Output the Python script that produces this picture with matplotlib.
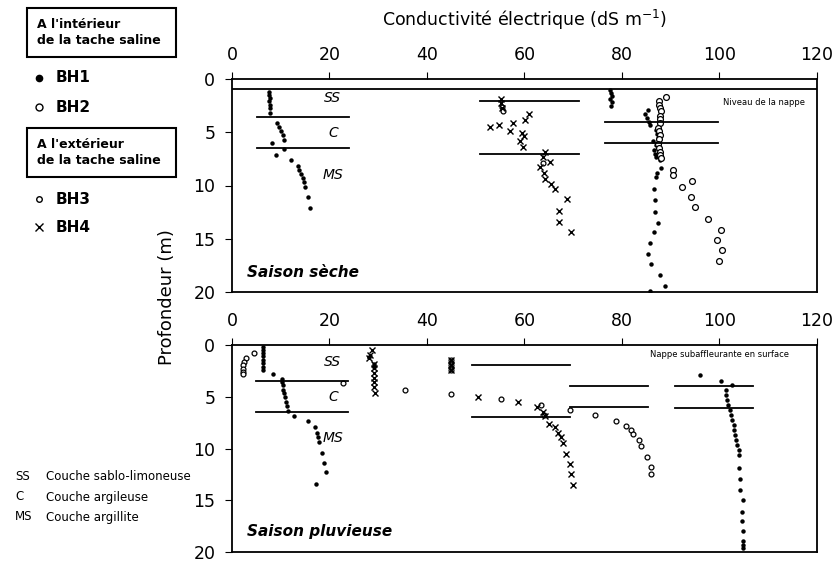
import matplotlib
matplotlib.use("Agg")
import matplotlib.pyplot as plt
from matplotlib.patches import Rectangle

# ---------------- DATA ----------------
xticks = [0, 20, 40, 60, 80, 100, 120]
yticks = [0, 5, 10, 15, 20]

# Dry season (Saison sèche): (conductivity, depth)
dry_bh1_x = [7.5, 7.6, 7.8, 7.6, 7.7, 7.8, 7.7, 9.2, 9.7, 10.1, 10.4, 10.7, 8.3, 10.7, 9.0,
             12.1, 13.5, 13.8, 14.2, 14.5, 14.8, 15.0, 15.5, 16.0,
             77.5, 77.8, 78.0, 77.6, 78.0, 77.8,
             85.4, 84.7, 85.1, 85.5, 85.7, 87.0, 87.1, 87.3, 86.3, 87.0, 86.6, 86.8, 87.0, 87.8,
             88.1, 87.1, 87.0, 86.6, 86.8, 86.8, 87.3, 86.5, 85.7, 85.3, 86.0, 87.8, 88.8, 85.8]
dry_bh1_y = [1.2, 1.5, 1.8, 2.1, 2.4, 2.7, 3.2, 4.1, 4.5, 4.85, 5.25, 5.7, 6.0, 6.6, 7.1,
             7.6, 8.2, 8.5, 8.95, 9.3, 9.7, 10.1, 11.05, 12.1,
             1.0, 1.3, 1.6, 1.9, 2.2, 2.5,
             2.9, 3.3, 3.7, 4.0, 4.3, 4.8, 5.2, 5.5, 5.8, 6.2, 6.7, 7.0, 7.35, 7.6,
             8.4, 8.85, 9.2, 10.35, 11.4, 12.5, 13.5, 14.4, 15.4, 16.4, 17.4, 18.4, 19.4, 19.9]
dry_bh2_x = [89.0, 87.5, 87.5, 87.7, 88.0, 87.8, 87.7, 87.7, 87.4, 87.5, 87.8, 87.5, 87.4, 87.5,
             87.7, 87.8, 88.0, 90.5, 90.5, 94.4, 92.4, 94.1, 95.0, 97.6, 100.3, 99.4, 100.5, 99.9]
dry_bh2_y = [1.65, 2.1, 2.45, 2.75, 3.05, 3.45, 3.8, 4.1, 4.6, 4.9, 5.3, 5.6, 6.1, 6.5,
             6.9, 7.1, 7.4, 8.55, 9.0, 9.6, 10.1, 11.05, 12.05, 13.1, 14.2, 15.1, 16.1, 17.1]
dry_bh3_x = [55.3, 55.5, 63.8]
dry_bh3_y = [2.6, 3.0, 7.9]
dry_bh4_x = [55.2, 55.2, 55.3, 60.9, 60.2, 57.6, 52.9, 54.8, 57.1, 59.5, 59.8, 59.1, 59.6,
             64.2, 63.8, 65.2, 63.2, 63.9, 64.2, 65.5, 66.2, 68.8, 67.0, 67.0, 69.5]
dry_bh4_y = [1.9, 2.3, 2.75, 3.3, 3.85, 4.1, 4.55, 4.3, 4.85, 5.1, 5.35, 5.85, 6.4,
             6.9, 7.3, 7.8, 8.3, 8.85, 9.4, 9.85, 10.35, 11.3, 12.35, 13.4, 14.4]

# Rainy season (Saison pluvieuse)
wet_bh1_x = [6.3, 6.3, 6.3, 6.3, 6.3, 6.3, 6.3, 6.3, 8.5, 10.2, 10.3, 10.4, 10.5, 10.7, 10.9,
             11.0, 11.2, 11.55, 12.8, 15.65, 17.0, 17.5, 17.7, 17.8, 18.5, 18.9, 19.2, 17.2,
             28.2, 29.1, 29.1,
             95.9, 100.4, 102.6, 101.3, 101.4, 101.6, 101.8, 102.2, 102.4, 102.5, 103.0, 103.0,
             103.2, 103.4, 103.6, 103.9, 104.1, 104.1, 104.3, 104.3, 104.9, 104.6, 104.6, 104.9,
             104.8, 104.8, 104.8]
wet_bh1_y = [0.16, 0.48, 0.8, 1.1, 1.45, 1.77, 2.1, 2.4, 2.8, 3.3, 3.55, 3.85, 4.35, 4.65, 5.05,
             5.5, 5.9, 6.35, 6.85, 7.3, 7.9, 8.5, 8.85, 9.35, 10.4, 11.4, 12.3, 13.4,
             1.2, 1.8, 2.1,
             2.9, 3.45, 3.85, 4.35, 4.8, 5.3, 5.8, 6.3, 6.75, 7.25, 7.75, 8.2,
             8.7, 9.2, 9.7, 10.1, 10.6, 11.9, 12.9, 14.0, 15.0, 16.1, 17.0, 18.0,
             18.9, 19.3, 19.6]
wet_bh3_x = [4.5, 2.8, 2.5, 2.3, 2.3, 2.3, 2.3, 22.8, 35.5, 44.9, 44.9, 44.9, 44.9, 55.2,
             63.4, 64.0, 69.3, 74.5, 78.7, 80.8, 81.8, 82.3, 83.4, 84.0, 85.1, 85.9, 85.9]
wet_bh3_y = [0.8, 1.3, 1.6, 1.9, 2.3, 2.6, 2.8, 3.7, 4.35, 1.45, 1.9, 2.4, 4.7, 5.25,
             5.8, 6.75, 6.3, 6.8, 7.3, 7.8, 8.2, 8.6, 9.2, 9.75, 10.8, 11.75, 12.45]
wet_bh4_x = [28.65, 28.3, 28.2, 29.1, 29.2, 29.2, 29.2, 29.2, 29.2, 29.3,
             44.9, 44.9, 44.9, 50.5, 58.7, 62.6, 63.7, 64.2, 65.1, 66.3, 66.9, 67.4, 67.8,
             68.6, 69.3, 69.6, 70.0]
wet_bh4_y = [0.5, 0.95, 1.3, 1.8, 2.2, 2.7, 3.2, 3.6, 4.1, 4.65,
             1.45, 1.9, 2.4, 5.05, 5.5, 6.0, 6.45, 6.9, 7.6, 7.95, 8.5, 8.9, 9.45,
             10.5, 11.5, 12.5, 13.5]

# Layer boundary segments: (depth, x_start, x_end)
dry_layers = [(3.6, 5.1, 23.9), (6.5, 5.1, 23.9), (2.1, 50.9, 71.2), (7.0, 50.9, 71.2),
              (4.05, 76.5, 99.7), (6.05, 76.5, 99.7)]
wet_layers = [(3.5, 4.9, 23.7), (6.5, 4.9, 23.7), (1.95, 49.2, 69.3), (7.0, 49.2, 69.3),
              (4.0, 69.3, 85.4), (6.0, 69.3, 85.4), (4.0, 90.9, 106.9), (6.1, 90.9, 106.9)]
dry_water_level = 0.95

layer_names = ["SS", "C", "MS"]
dry_layer_label_y = [1.8, 5.1, 9.0]
wet_layer_label_y = [1.6, 5.0, 9.0]

# ---------------- FIGURE ----------------
W, H = 837, 562
fig = plt.figure(figsize=(W / 100, H / 100), dpi=100)
plt.rcParams['font.family'] = ['DejaVu Sans']

def px_axes(left, top, right, bottom):
    return fig.add_axes([left / W, 1 - bottom / H, (right - left) / W, (bottom - top) / H])

ax1 = px_axes(232, 79, 817, 292)
ax2 = px_axes(232, 345, 817, 552)

ms_dot = 3.2
for ax in (ax1, ax2):
    ax.set_xlim(0, 120)
    ax.set_ylim(20, 0)
    ax.xaxis.tick_top()
    ax.set_xticks(xticks)
    ax.set_yticks(yticks)
    ax.tick_params(direction='out', length=5, width=0.8, labelsize=12.5)
    ax.tick_params(axis='x', pad=6)
    ax.tick_params(axis='y', pad=7)
    for s in ax.spines.values():
        s.set_linewidth(1.3)

# Dry season
ax1.plot(dry_bh1_x, dry_bh1_y, 'o', color='black', ms=ms_dot, mew=0, linestyle='none')
ax1.plot(dry_bh2_x, dry_bh2_y, 'o', mfc='white', mec='black', ms=4.2, mew=0.9, linestyle='none')
ax1.plot(dry_bh3_x, dry_bh3_y, 'o', mfc='white', mec='black', ms=3.5, mew=0.9, linestyle='none')
ax1.plot(dry_bh4_x, dry_bh4_y, 'x', color='black', ms=4.5, mew=1.0, linestyle='none')
for d, x0, x1 in dry_layers:
    ax1.plot([x0, x1], [d, d], color='black', lw=1.3)
ax1.axhline(dry_water_level, color='black', lw=1.3)
for name, yy in zip(layer_names, dry_layer_label_y):
    ax1.text(20.7, yy, name, fontsize=10, ha='center', va='center', style='italic')
ax1.text(3.0, 18.2, "Saison sèche", fontsize=11, style='italic', fontweight='bold',
         ha='left', va='center')
ax1.text(100.7, 2.2, "Niveau de la nappe", fontsize=6, ha='left', va='center')

# Rainy season
ax2.plot(wet_bh1_x, wet_bh1_y, 'o', color='black', ms=ms_dot, mew=0, linestyle='none')
ax2.plot(wet_bh3_x, wet_bh3_y, 'o', mfc='white', mec='black', ms=3.5, mew=0.9, linestyle='none')
ax2.plot(wet_bh4_x, wet_bh4_y, 'x', color='black', ms=4.5, mew=1.0, linestyle='none')
for d, x0, x1 in wet_layers:
    ax2.plot([x0, x1], [d, d], color='black', lw=1.3)
for name, yy in zip(layer_names, wet_layer_label_y):
    ax2.text(20.7, yy, name, fontsize=10, ha='center', va='center', style='italic')
ax2.text(3.0, 18.0, "Saison pluvieuse", fontsize=11, style='italic', fontweight='bold',
         ha='left', va='center')
ax2.text(85.7, 0.9, "Nappe subaffleurante en surface", fontsize=6, ha='left', va='center')

# Axis titles
fig.text(525 / W, 1 - 20 / H, "Conductivité électrique (dS m$^{-1}$)", fontsize=12.5,
         ha='center', va='center')
fig.text(167 / W, 1 - 297 / H, "Profondeur (m)", fontsize=13, rotation=90,
         ha='center', va='center')

# Legend on the left
def fx(x):
    return x / W

def fy(y):
    return 1 - y / H

for (top, bot, txt) in [(8, 57, "A l'intérieur\nde la tache saline"),
                        (128, 177, "A l'extérieur\nde la tache saline")]:
    fig.patches.append(Rectangle((fx(27), fy(bot)), (176 - 27) / W, (bot - top) / H,
                                 transform=fig.transFigure, fill=False, ec='black', lw=1.5))
    fig.text(fx(37), fy((top + bot) / 2), txt, fontsize=9, fontweight='bold',
             ha='left', va='center', linespacing=1.3)

leg_items = [(78, 'o', 'black', 'black', 4.5, "BH1"),
             (107, 'o', 'white', 'black', 5, "BH2"),
             (199, 'o', 'white', 'black', 4, "BH3"),
             (227, 'x', 'black', 'black', 6, "BH4")]
for yy, mk, mfc, mec, ms, lab in leg_items:
    fig.lines.append(plt.Line2D([fx(39)], [fy(yy)], marker=mk, mfc=mfc, mec=mec, ms=ms,
                                mew=1.0, linestyle='none', transform=fig.transFigure))
    fig.text(fx(56), fy(yy), lab, fontsize=11, fontweight='bold', ha='left', va='center')

for yy, a, b in [(477, "SS", "Couche sablo-limoneuse"),
                 (497, "C", "Couche argileuse"),
                 (517, "MS", "Couche argillite")]:
    fig.text(fx(15), fy(yy), a, fontsize=8.5, ha='left', va='center')
    fig.text(fx(46), fy(yy), b, fontsize=8.5, ha='left', va='center')

fig.savefig("out.png", dpi=100)
